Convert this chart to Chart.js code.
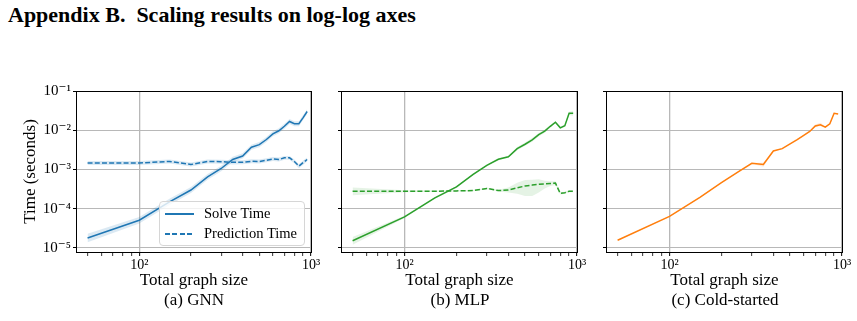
<!DOCTYPE html>
<html>
<head>
<meta charset="utf-8">
<script src="https://cdn.jsdelivr.net/npm/chart.js@4.4.1/dist/chart.umd.min.js"></script>
<style>
  body { margin:0; background:#fff; width:857px; height:321px; position:relative; overflow:hidden; font-family:"Liberation Serif", serif; color:#000; }
  .title { position:absolute; left:8px; top:2px; font-size:22px; font-weight:bold; white-space:pre; }
  canvas { position:absolute; top:80px; }
  .cap { position:absolute; top:290px; width:200px; text-align:center; font-size:17px; line-height:20px; }
  .legend { position:absolute; left:159px; top:201px; width:144px; height:43px; border:1px solid #d6d6d6; border-radius:4px; background:rgba(255,255,255,0.8); font-size:14.5px; }
  .legend div { position:absolute; left:44px; line-height:16px; white-space:nowrap; }
  .legend span { position:absolute; left:5px; width:29px; height:1.6px; }
  .solid { background:#1f77b4; }
  .dash { background:repeating-linear-gradient(to right, #1f77b4 0 5px, transparent 5px 7.5px); }
</style>
</head>
<body>
<div class="title">Appendix B.  Scaling results on log-log axes</div>

<canvas id="gnn" width="326" height="211" style="left:0px"></canvas>
<canvas id="mlp" width="262" height="211" style="left:330px"></canvas>
<canvas id="cold" width="262" height="211" style="left:595px"></canvas>

<div class="legend">
  <span class="solid" style="top:11px"></span><div style="top:3px">Solve Time</div>
  <span class="dash" style="top:31px"></span><div style="top:23px">Prediction Time</div>
</div>

<div class="cap" style="left:94px">(a) GNN</div>
<div class="cap" style="left:360px">(b) MLP</div>
<div class="cap" style="left:625px">(c) Cold-started</div>

<script>
// graph sizes on the x axis
const sizes = [50, 100, 150, 200, 250, 300, 350, 400, 450, 500, 550, 600, 650, 700, 750, 800, 850, 900, 950];

// (a) GNN
const gnnSolve   = [1.8e-5, 5.1e-5, 1.5e-4, 3.0e-4, 6.5e-4, 1.06e-3, 1.8e-3, 2.2e-3, 3.7e-3, 4.3e-3, 5.8e-3, 8.1e-3, 9.7e-3, 1.26e-2, 1.67e-2, 1.47e-2, 1.47e-2, 2.1e-2, 3.0e-2];
const gnnSolveLo = [1.4e-5, 4.2e-5, 1.25e-4, 2.5e-4, 5.5e-4, 9.0e-4, 1.55e-3, 1.9e-3, 3.2e-3, 3.7e-3, 5.0e-3, 7.0e-3, 8.4e-3, 1.09e-2, 1.45e-2, 1.27e-2, 1.27e-2, 1.82e-2, 2.6e-2];
const gnnSolveHi = [2.3e-5, 6.2e-5, 1.8e-4, 3.6e-4, 7.7e-4, 1.25e-3, 2.1e-3, 2.6e-3, 4.3e-3, 5.0e-3, 6.7e-3, 9.4e-3, 1.12e-2, 1.46e-2, 1.93e-2, 1.7e-2, 1.7e-2, 2.43e-2, 3.45e-2];
const gnnPred    = [1.46e-3, 1.46e-3, 1.6e-3, 1.34e-3, 1.6e-3, 1.58e-3, 1.52e-3, 1.53e-3, 1.62e-3, 1.6e-3, 1.72e-3, 1.86e-3, 1.8e-3, 1.98e-3, 1.98e-3, 1.6e-3, 1.22e-3, 1.5e-3, 1.8e-3];
const gnnPredLo  = [1.3e-3, 1.3e-3, 1.42e-3, 1.2e-3, 1.42e-3, 1.4e-3, 1.35e-3, 1.36e-3, 1.44e-3, 1.42e-3, 1.53e-3, 1.65e-3, 1.6e-3, 1.76e-3, 1.76e-3, 1.42e-3, 1.08e-3, 1.33e-3, 1.6e-3];
const gnnPredHi  = [1.64e-3, 1.64e-3, 1.8e-3, 1.5e-3, 1.8e-3, 1.78e-3, 1.71e-3, 1.72e-3, 1.82e-3, 1.8e-3, 1.93e-3, 2.09e-3, 2.02e-3, 2.22e-3, 2.22e-3, 1.8e-3, 1.37e-3, 1.69e-3, 2.02e-3];

// (b) MLP
const mlpSolve   = [1.53e-5, 6.2e-5, 1.9e-4, 3.6e-4, 7.5e-4, 1.28e-3, 1.82e-3, 2.1e-3, 3.4e-3, 4.4e-3, 5.7e-3, 7.7e-3, 9.5e-3, 1.26e-2, 1.6e-2, 1.15e-2, 1.3e-2, 2.7e-2, 2.7e-2];
const mlpSolveLo = [1.2e-5, 5.8e-5, 1.8e-4, 3.4e-4, 7.1e-4, 1.22e-3, 1.72e-3, 1.98e-3, 3.1e-3, 4.0e-3, 5.1e-3, 6.9e-3, 8.6e-3, 1.16e-2, 1.5e-2, 1.08e-2, 1.22e-2, 2.45e-2, 2.35e-2];
const mlpSolveHi = [1.9e-5, 6.6e-5, 2.0e-4, 3.8e-4, 7.9e-4, 1.34e-3, 1.92e-3, 2.22e-3, 3.75e-3, 4.85e-3, 6.3e-3, 8.5e-3, 1.05e-2, 1.37e-2, 1.7e-2, 1.22e-2, 1.38e-2, 2.95e-2, 3.1e-2];
const mlpPred    = [2.8e-4, 2.8e-4, 2.8e-4, 2.85e-4, 2.9e-4, 3.3e-4, 2.9e-4, 3.0e-4, 3.4e-4, 3.8e-4, 4.0e-4, 4.2e-4, 4.3e-4, 4.4e-4, 4.5e-4, 2.45e-4, 2.55e-4, 2.8e-4, 2.8e-4];
const mlpPredLo  = [2.2e-4, 2.65e-4, 2.7e-4, 2.75e-4, 2.8e-4, 3.15e-4, 2.75e-4, 2.6e-4, 2.4e-4, 2.1e-4, 2.1e-4, 2.6e-4, 3.3e-4, 3.8e-4, 4.0e-4, 2.3e-4, 2.4e-4, 2.65e-4, 2.65e-4];
const mlpPredHi  = [3.5e-4, 2.95e-4, 2.9e-4, 2.95e-4, 3.0e-4, 3.45e-4, 3.05e-4, 3.5e-4, 4.6e-4, 5.4e-4, 5.5e-4, 5.6e-4, 5.2e-4, 5.0e-4, 5.0e-4, 2.6e-4, 2.7e-4, 2.95e-4, 2.95e-4];

// (c) Cold-started
const coldSolve   = [1.57e-5, 6.4e-5, 1.95e-4, 4.6e-4, 8.7e-4, 1.44e-3, 1.34e-3, 2.97e-3, 3.4e-3, 4.5e-3, 5.8e-3, 7.4e-3, 9.3e-3, 1.28e-2, 1.38e-2, 1.2e-2, 1.46e-2, 2.7e-2, 2.6e-2];
const coldSolveLo = [1.53e-5, 6.25e-5, 1.9e-4, 4.5e-4, 8.5e-4, 1.4e-3, 1.18e-3, 2.9e-3, 3.3e-3, 4.4e-3, 5.65e-3, 7.2e-3, 9.05e-3, 1.2e-2, 1.28e-2, 1.16e-2, 1.42e-2, 2.62e-2, 2.52e-2];
const coldSolveHi = [1.61e-5, 6.55e-5, 2.0e-4, 4.7e-4, 8.9e-4, 1.48e-3, 1.48e-3, 3.05e-3, 3.5e-3, 4.6e-3, 5.95e-3, 7.6e-3, 9.55e-3, 1.4e-2, 1.55e-2, 1.24e-2, 1.5e-2, 2.78e-2, 2.68e-2];

// axes
const xTicks = [50, 60, 70, 80, 90, 100, 200, 300, 400, 500, 600, 700, 800, 900, 1000];
const xTickLabels = {100: '10²', 1000: '10³'};
const yTicks = [1e-5, 1e-4, 1e-3, 1e-2, 1e-1];
const yTickLabels = ['10⁻⁵', '10⁻⁴', '10⁻³', '10⁻²', '10⁻¹'];

const FONT = '"Liberation Serif", "DejaVu Serif", serif';
const GRID = '#b8b8b8';

const pts = (arr) => sizes.map((s, i) => ({x: s, y: arr[i]}));

function band(lo, hi, fillColor) {
  return [
    {data: pts(lo), borderWidth: 0, pointRadius: 0, fill: false},
    {data: pts(hi), borderWidth: 0, pointRadius: 0, fill: '-1', backgroundColor: fillColor},
  ];
}
function line(arr, color, dashed) {
  return {data: pts(arr), borderColor: color, borderWidth: 1.5, borderDash: dashed ? [5, 2.2] : [], pointRadius: 0, fill: false, tension: 0};
}

const frame = {
  id: 'frame',
  afterDraw(chart) {
    const {ctx, chartArea: a} = chart;
    ctx.save();
    ctx.strokeStyle = '#000';
    ctx.lineWidth = 1;
    ctx.strokeRect(Math.round(a.left) - 0.5, Math.round(a.top) + 0.5, Math.round(a.right - a.left) + 1, Math.round(a.bottom - a.top));
    ctx.restore();
  }
};

function makeChart(id, datasets, showY, yWidth) {
  new Chart(document.getElementById(id), {
    type: 'line',
    data: {datasets: datasets},
    plugins: [frame],
    options: {
      responsive: false,
      animation: false,
      layout: {padding: {top: 10, right: 15, left: 0, bottom: 0}},
      plugins: {legend: {display: false}, tooltip: {enabled: false}},
      scales: {
        x: {
          type: 'logarithmic',
          min: 43.4,
          max: 1000,
          afterBuildTicks: (s) => { s.ticks = xTicks.map(v => ({value: v})); },
          afterFit: (s) => { s.height = 39; },
          border: {display: false},
          grid: {
            color: (c) => (c.tick && (c.tick.value === 100 || c.tick.value === 1000)) ? GRID : 'rgba(0,0,0,0)',
            lineWidth: 1.3,
            tickColor: '#000',
            tickLength: 4,
            tickWidth: (c) => (c.tick && xTickLabels[c.tick.value]) ? 1 : 0.8,
          },
          ticks: {
            autoSkip: false, maxRotation: 0, padding: 1, color: '#000',
            font: {family: FONT, size: 14},
            callback: (v) => xTickLabels[v] || '',
          },
          title: {display: true, text: 'Total graph size', color: '#000', font: {family: FONT, size: 17}, padding: 0},
        },
        y: {
          type: 'logarithmic',
          min: 7.9e-6,
          max: 0.1,
          afterBuildTicks: (s) => { s.ticks = yTicks.map(v => ({value: v})); },
          afterFit: (s) => { s.width = yWidth; },
          border: {display: false},
          grid: {color: GRID, lineWidth: 1, tickColor: '#000', tickLength: 4},
          ticks: {
            padding: 2, color: '#000',
            font: {family: FONT, size: 15},
            callback: (v) => showY ? yTickLabels[yTicks.findIndex(t => Math.abs(t - v) / t < 1e-6)] : '',
          },
          title: {display: showY, text: 'Time (seconds)', color: '#000', font: {family: FONT, size: 17}, padding: {top: 20}},
        }
      }
    }
  });
}

const blue = '#1f77b4', green = '#2ca02c', orange = '#ff7f0e';

makeChart('gnn', [
  ...band(gnnSolveLo, gnnSolveHi, 'rgba(31,119,180,0.16)'),
  line(gnnSolve, blue, false),
  ...band(gnnPredLo, gnnPredHi, 'rgba(31,119,180,0.16)'),
  line(gnnPred, blue, true),
], true, 77);

makeChart('mlp', [
  ...band(mlpSolveLo, mlpSolveHi, 'rgba(44,160,44,0.12)'),
  line(mlpSolve, green, false),
  ...band(mlpPredLo, mlpPredHi, 'rgba(44,160,44,0.12)'),
  line(mlpPred, green, true),
], false, 12);

makeChart('cold', [
  ...band(coldSolveLo, coldSolveHi, 'rgba(255,127,14,0.16)'),
  line(coldSolve, orange, false),
], false, 12);
</script>
</body>
</html>
